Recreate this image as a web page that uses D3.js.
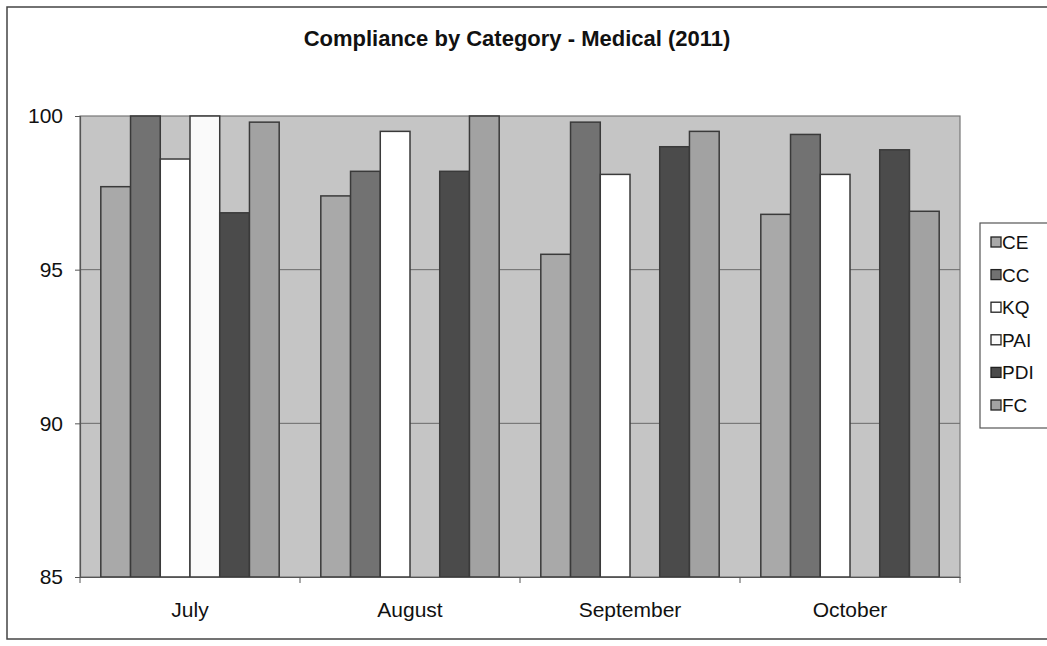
<!DOCTYPE html>
<html>
<head>
<meta charset="utf-8">
<script src="https://cdn.jsdelivr.net/npm/d3@7"></script>
<style>
  body { margin: 0; background: #fff; }
  text { font-family: "Liberation Sans", Arial, sans-serif; fill: #111; }
</style>
</head>
<body>
<div id="chart"></div>
<script>
// chart values
var months = ["July", "August", "September", "October"];
var series = ["CE", "CC", "KQ", "PAI", "PDI", "FC"];
var ceValues  = [97.7, 97.4, 95.5, 96.8];
var ccValues  = [100, 98.2, 99.8, 99.4];
var kqValues  = [98.6, 99.5, 98.1, 98.1];
var paiValues = [100, null, null, null];
var pdiValues = [96.85, 98.2, 99.0, 98.9];
var fcValues  = [99.8, 100, 99.5, 96.9];
var yTicks = [85, 90, 95, 100];

var seriesValues = [ceValues, ccValues, kqValues, paiValues, pdiValues, fcValues];
var seriesColors = ["#a9a9a9", "#727272", "#ffffff", "#fafafa", "#4b4b4b", "#a2a2a2"];

var width = 1047, height = 646;
var plot = {left: 80, right: 960, top: 116, bottom: 577};

var svg = d3.select("#chart").append("svg")
    .attr("width", width)
    .attr("height", height);

// outer chart border
svg.append("rect")
    .attr("x", 7).attr("y", 7)
    .attr("width", width + 10).attr("height", 632)
    .attr("fill", "none")
    .attr("stroke", "#444")
    .attr("stroke-width", 1.5);

svg.append("text")
    .attr("x", 517).attr("y", 46)
    .attr("text-anchor", "middle")
    .style("font-size", "22px")
    .style("font-weight", "bold")
    .text("Compliance by Category - Medical (2011)");

var x0 = d3.scaleBand()
    .domain(months)
    .range([plot.left, plot.right]);

var x1 = d3.scaleBand()
    .domain(series)
    .range([0, x0.bandwidth()])
    .paddingOuter(0.7);

var yScale = d3.scaleLinear()
    .domain([85, 100])
    .range([plot.bottom, plot.top]);

// plot area
svg.append("rect")
    .attr("x", plot.left).attr("y", plot.top)
    .attr("width", plot.right - plot.left)
    .attr("height", plot.bottom - plot.top)
    .attr("fill", "#c5c5c5")
    .attr("stroke", "#777")
    .attr("stroke-width", 1.2);

// gridlines
svg.append("g")
    .selectAll("line")
    .data(yTicks.filter(function(d) { return d > 85 && d < 100; }))
    .join("line")
    .attr("x1", plot.left).attr("x2", plot.right)
    .attr("y1", function(d) { return yScale(d); })
    .attr("y2", function(d) { return yScale(d); })
    .attr("stroke", "#6a6a6a")
    .attr("stroke-width", 1);

// bars
var rows = [];
months.forEach(function(m, i) {
    series.forEach(function(s, j) {
        var v = seriesValues[j][i];
        if (v !== null) rows.push({month: m, key: s, value: v, color: seriesColors[j]});
    });
});

svg.append("g")
    .selectAll("rect")
    .data(rows)
    .join("rect")
    .attr("x", function(d) { return x0(d.month) + x1(d.key); })
    .attr("y", function(d) { return yScale(d.value); })
    .attr("width", x1.bandwidth())
    .attr("height", function(d) { return plot.bottom - yScale(d.value); })
    .attr("fill", function(d) { return d.color; })
    .attr("stroke", "#3a3a3a")
    .attr("stroke-width", 1.5);

// y axis
var yAxis = svg.append("g")
    .attr("transform", "translate(" + plot.left + ",0)")
    .call(d3.axisLeft(yScale).tickValues(yTicks).tickSize(5).tickPadding(12));
yAxis.select(".domain").attr("stroke", "#555").attr("stroke-width", 1.2);
yAxis.selectAll(".tick line").attr("stroke", "#555");
yAxis.selectAll("text").style("font-size", "21px").attr("fill", "#111");

// x axis
var xAxis = svg.append("g")
    .attr("transform", "translate(0," + plot.bottom + ")")
    .call(d3.axisBottom(x0).tickSize(0).tickPadding(25));
xAxis.select(".domain").attr("stroke", "#555").attr("stroke-width", 1.2);
xAxis.selectAll("text").style("font-size", "21px").attr("fill", "#111");

// category dividers below the axis
svg.append("g")
    .selectAll("line")
    .data(months.concat(["end"]))
    .join("line")
    .attr("x1", function(d, i) { return i < months.length ? x0(d) : plot.right; })
    .attr("x2", function(d, i) { return i < months.length ? x0(d) : plot.right; })
    .attr("y1", plot.bottom).attr("y2", plot.bottom + 6)
    .attr("stroke", "#555");

// legend
var legend = svg.append("g").attr("transform", "translate(980,223)");
legend.append("rect")
    .attr("x", 0).attr("y", 0)
    .attr("width", 80).attr("height", 205)
    .attr("fill", "#fff")
    .attr("stroke", "#555")
    .attr("stroke-width", 1.2);

var items = legend.selectAll("g.item")
    .data(series)
    .join("g")
    .attr("class", "item")
    .attr("transform", function(d, i) { return "translate(11," + (19 + i * 32.6) + ")"; });

items.append("rect")
    .attr("x", 0).attr("y", -5)
    .attr("width", 10).attr("height", 10)
    .attr("fill", function(d, i) { return seriesColors[i]; })
    .attr("stroke", "#222")
    .attr("stroke-width", 1.3);

items.append("text")
    .attr("x", 11).attr("y", 7)
    .style("font-size", "19px")
    .text(function(d) { return d; });
</script>
</body>
</html>
